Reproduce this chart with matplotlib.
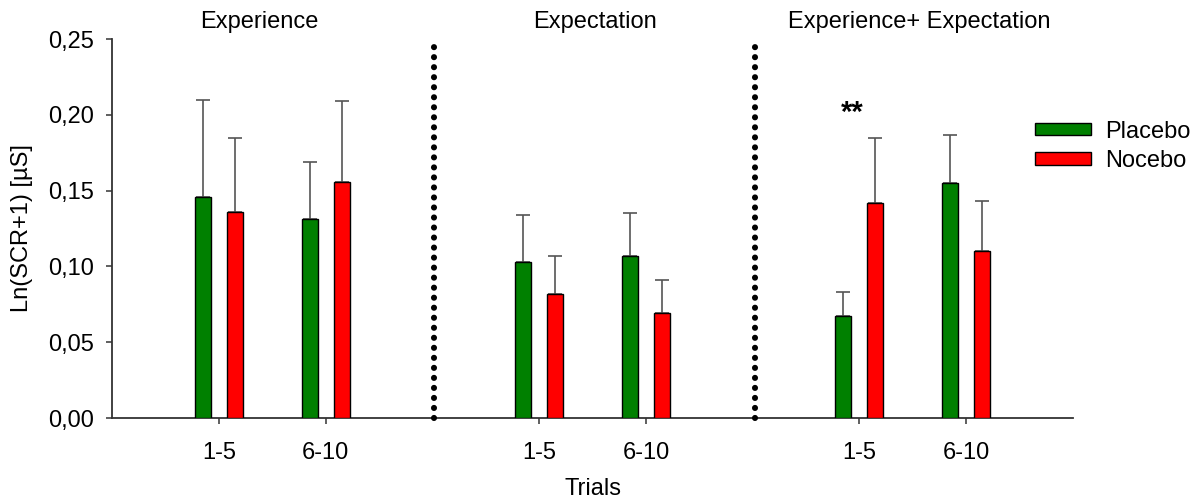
import matplotlib
matplotlib.use("Agg")
import matplotlib.pyplot as plt
import matplotlib.transforms as mtransforms
from matplotlib.patches import Patch
from matplotlib.ticker import FuncFormatter, MultipleLocator
import numpy as np

plt.rcParams["font.family"] = ["Liberation Sans", "DejaVu Sans"]

# Trial blocks, three conditions with two blocks each
trial_labels = ["1-5", "6-10", "1-5", "6-10", "1-5", "6-10"]
group_titles = ["Experience", "Expectation", "Experience+ Expectation"]

placebo_mean = [0.146, 0.131, 0.103, 0.107, 0.067, 0.155]
placebo_err = [0.064, 0.038, 0.031, 0.028, 0.016, 0.032]
nocebo_mean = [0.136, 0.156, 0.082, 0.069, 0.142, 0.110]
nocebo_err = [0.049, 0.053, 0.025, 0.022, 0.043, 0.033]

FS = 17
positions = np.array([1, 2, 4, 5, 7, 8], dtype=float)
bar_w = 0.15
offset = 0.15

fig = plt.figure(figsize=(12.01, 4.99), dpi=100)
ax = fig.add_axes([0.0933, 0.1623, 0.8001, 0.7595])

zeros = np.zeros(len(positions))
for xs, means, errs, color in [
    (positions - offset, placebo_mean, placebo_err, "#008000"),
    (positions + offset, nocebo_mean, nocebo_err, "#ff0000"),
]:
    ax.errorbar(xs, means, yerr=[zeros, errs], fmt="none",
                ecolor="#555555", elinewidth=1.2, capsize=5,
                capthick=1.2, zorder=2)
    ax.bar(xs, means, width=bar_w, color=color, edgecolor="black",
           linewidth=1.0, zorder=3)

# dotted separators between the conditions
for xsep in (3.02, 6.02):
    ax.plot([xsep, xsep], [0.0, 0.2485], color="black", lw=4.4,
             ls=(0, (0.01, 1.63)), dash_capstyle="round", zorder=4,
             clip_on=False)

ax.set_xlim(0, 9)
ax.set_ylim(0, 0.25)
ax.set_xticks(positions)
ax.set_xticklabels(trial_labels, fontsize=FS)
ax.yaxis.set_major_locator(MultipleLocator(0.05))
ax.yaxis.set_major_formatter(
    FuncFormatter(lambda v, _: f"{v:.2f}".replace(".", ",")))
ax.tick_params(axis="y", labelsize=FS, length=4, width=1.2,
               color="#444444", pad=9)
ax.tick_params(axis="x", length=4, width=1.2, color="#444444", pad=13)

for side in ("top", "right"):
    ax.spines[side].set_visible(False)
for side in ("left", "bottom"):
    ax.spines[side].set_color("#333333")
    ax.spines[side].set_linewidth(1.3)

ax.set_ylabel("Ln(SCR+1) [µS]", fontsize=FS, labelpad=11)
ax.set_xlabel("Trials", fontsize=FS, labelpad=10)

# condition headings above each pair of blocks
trans = mtransforms.blended_transform_factory(ax.transData, fig.transFigure)
for gx, title in zip([1.38, 4.52, 7.56], group_titles):
    ax.text(gx, 0.955, title, transform=trans, ha="center", va="center",
            fontsize=FS)

ax.text(6.93, 0.201, "**", ha="center", va="center", fontsize=21,
        fontweight="bold")

handles = [Patch(facecolor="#008000", edgecolor="black", linewidth=1.0),
           Patch(facecolor="#ff0000", edgecolor="black", linewidth=1.0)]
fig.legend(handles, ["Placebo", "Nocebo"], loc="upper left",
           bbox_to_anchor=(0.862, 0.758), frameon=False, fontsize=FS,
           handlelength=2.35, handleheight=0.42, handletextpad=0.62,
           labelspacing=0.3, borderpad=0, borderaxespad=0)

fig.savefig("out.png", dpi=100)
